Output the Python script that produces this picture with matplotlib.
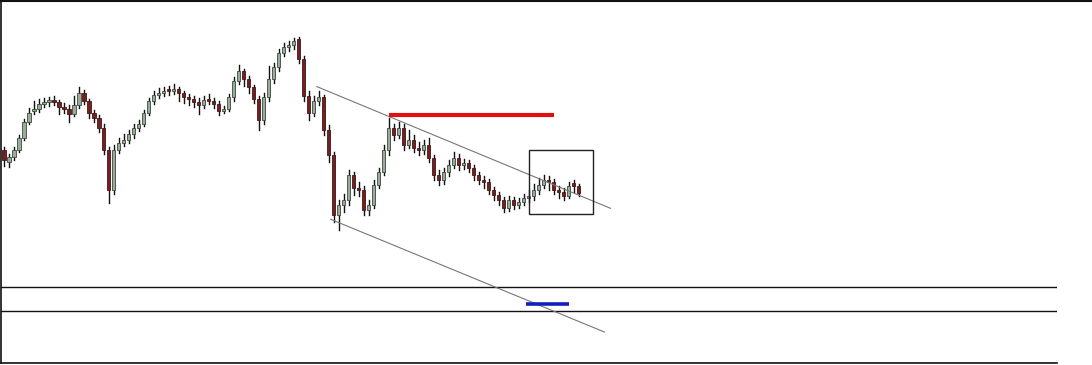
import matplotlib
matplotlib.use("Agg")
import matplotlib.pyplot as plt
from matplotlib.lines import Line2D
from matplotlib.patches import Rectangle

# daily candles, price
opens = [150, 138, 143, 150, 162, 178, 190, 192, 197, 199, 201, 199, 194, 192, 187, 196,
         208, 200, 188, 182, 172, 150, 110, 150, 157, 160, 166, 172, 176, 188, 200, 206,
         208, 211, 210, 212, 208, 204, 202, 199, 196, 201, 200, 197, 190, 192, 204, 220,
         230, 222, 214, 202, 180, 204, 222, 234, 248, 254, 256, 262, 242, 205, 188, 200,
         204, 170, 145, 85, 95, 100, 125, 112, 110, 90, 95, 115, 128, 150, 172, 165,
         172, 155, 160, 152, 150, 155, 142, 125, 120, 128, 135, 142, 135, 137, 132, 125,
         120, 118, 110, 105, 100, 92, 100, 95, 98, 102, 104, 110, 115, 120, 118, 110,
         108, 104, 117, 114]
closes = [140, 143, 150, 162, 178, 188, 192, 197, 199, 200, 199, 194, 192, 187, 196, 208,
          200, 188, 182, 172, 150, 110, 150, 157, 160, 166, 172, 176, 188, 200, 206, 208,
          210, 210, 212, 208, 204, 202, 199, 196, 201, 200, 197, 190, 192, 204, 220, 230,
          222, 214, 202, 180, 204, 222, 234, 248, 254, 256, 260, 242, 205, 188, 200, 204,
          170, 145, 85, 95, 100, 125, 112, 110, 90, 95, 115, 128, 150, 172, 165, 172,
          155, 160, 152, 150, 155, 142, 125, 120, 128, 135, 142, 135, 137, 132, 125, 120,
          118, 110, 105, 100, 92, 100, 95, 98, 102, 104, 110, 115, 120, 118, 110, 108,
          104, 114, 114, 107]
highs = [153, 146, 153, 165, 181, 193, 200, 202, 203, 204, 205, 201, 198, 196, 205, 214,
         211, 202, 191, 185, 176, 153, 155, 162, 166, 170, 176, 180, 191, 203, 210, 213,
         214, 215, 217, 214, 210, 207, 205, 203, 205, 207, 203, 200, 195, 207, 224, 236,
         232, 225, 216, 205, 208, 235, 238, 252, 258, 260, 263, 264, 245, 210, 205, 210,
         206, 175, 148, 100, 106, 130, 128, 118, 114, 100, 120, 132, 155, 182, 176, 178,
         176, 170, 165, 158, 160, 162, 145, 130, 132, 140, 148, 146, 141, 140, 135, 128,
         124, 121, 113, 108, 103, 104, 103, 102, 106, 110, 116, 122, 125, 124, 121, 114,
         112, 118, 120, 116]
lows = [134, 133, 140, 148, 160, 176, 186, 189, 194, 195, 196, 186, 188, 178, 184, 193,
        197, 182, 178, 168, 146, 97, 106, 147, 154, 157, 162, 169, 174, 185, 197, 203,
        205, 206, 207, 200, 198, 196, 194, 186, 193, 197, 193, 185, 188, 190, 200, 217,
        215, 208, 198, 170, 176, 200, 218, 230, 245, 250, 252, 238, 200, 180, 184, 196,
        165, 138, 78, 70, 88, 95, 105, 104, 85, 85, 92, 112, 125, 145, 160, 162,
        150, 152, 148, 145, 146, 138, 120, 115, 116, 124, 132, 130, 131, 128, 120, 116,
        112, 106, 100, 95, 88, 89, 91, 92, 95, 98, 100, 106, 112, 110, 106, 102,
        100, 102, 108, 104]

# drawn objects (bar index, price)
upper_trend = [(62.6, 214), (121.4, 92)]
lower_trend = [(65.4, 81), (120.2, -32)]
red_level = (77, 110, 185)
blue_level = (104.4, 113, -4)
box = (105, 118, 86, 150)
panel_lines = [13, -11]

fig = plt.figure(figsize=(10.92, 3.65), dpi=100)
ax = fig.add_axes([0.0005, 0.0055, 0.9675, 0.9925])
ax.set_xlim(-0.7, 210.8)
ax.set_ylim(-63, 300)

up_face, up_edge = "#9aab9a", "#3c4a3c"
dn_face, dn_edge = "#6e2222", "#4a1515"
w = 0.62
for i in range(len(closes)):
    o, c, h, l = opens[i], closes[i], highs[i], lows[i]
    ax.plot([i, i], [l, h], color="#111111", lw=1.0, zorder=2)
    if c >= o:
        fc, ec = up_face, up_edge
    else:
        fc, ec = dn_face, dn_edge
    ax.add_patch(Rectangle((i - w / 2, min(o, c)), w, max(abs(c - o), 1.2),
                           facecolor=fc, edgecolor=ec, lw=0.6, zorder=3))

ax.plot(*zip(*upper_trend), color="#777777", lw=0.8, zorder=4)
ax.plot(*zip(*lower_trend), color="#777777", lw=0.8, zorder=4)
ax.plot(red_level[:2], [red_level[2]] * 2, color="#e01010", lw=3, zorder=5,
        solid_capstyle="butt")
ax.plot(blue_level[:2], [blue_level[2]] * 2, color="#1020c0", lw=2.6, zorder=5,
        solid_capstyle="butt")
ax.add_patch(Rectangle((box[0], box[2]), box[1] - box[0], box[3] - box[2],
                       fill=False, edgecolor="#222222", lw=1.0, zorder=5))
for y in panel_lines:
    ax.axhline(y, color="#111111", lw=1.0, zorder=1)

ax.set_xticks([])
ax.set_yticks([])
ax.spines["right"].set_visible(False)
ax.spines["top"].set_visible(False)
for s in ("left", "bottom"):
    ax.spines[s].set_color("#111111")
    ax.spines[s].set_linewidth(1.2)

# frame line across the very top
fig.add_artist(Line2D([0, 1], [0.998, 0.998], color="#111111", lw=1.5))

fig.savefig("out.png", dpi=100)
